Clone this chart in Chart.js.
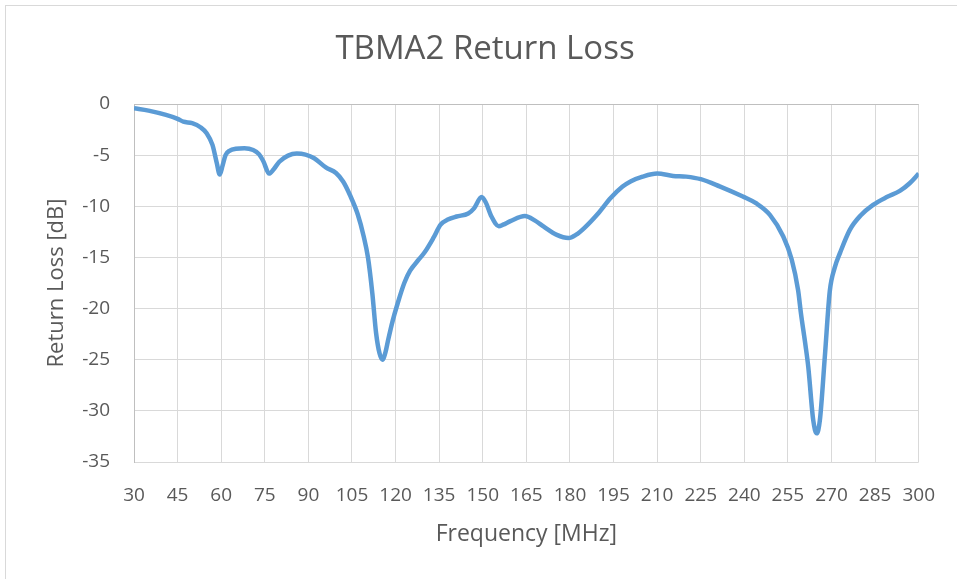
<!DOCTYPE html>
<html>
<head>
<meta charset="utf-8">
<script src="https://cdn.jsdelivr.net/npm/chart.js@4.4.1/dist/chart.umd.min.js"></script>
<style>
  html, body { margin: 0; padding: 0; background: #fff; }
  #wrap { width: 957px; height: 579px; }
</style>
</head>
<body>
<div id="wrap"><canvas id="rlChart"></canvas></div>
<script>
// frequency points [MHz] and return loss [dB]
var freqs = [30, 35, 41, 45, 47, 50, 53, 55, 57, 58.5, 59.5, 60.5, 61.5, 63, 65, 68, 71, 73, 74.5, 76.5,
    78, 80, 83, 86, 89, 92, 96, 99.5, 102, 104.3, 107, 109, 110.5, 112, 113.3, 114.5, 115.5, 116.5, 117.5, 119,
    120.5, 123, 125, 128, 130, 133, 135.5, 138, 141, 145, 147, 149.6, 151, 153, 155.5, 157, 159.5, 164.5, 168, 171,
    175.5, 179.5, 182, 185, 190, 194, 198, 201, 205, 210, 215.5, 220, 225, 231.5, 239.5, 244, 248.8, 253.4, 256.3, 258.5,
    259.5, 261, 262, 263.7, 264.9, 266, 267.7, 269.4, 271.1, 273, 276.3, 280, 284.3, 289, 293.5, 296.9, 300];
var returnLoss = [-0.42, -0.65, -1.07, -1.45, -1.73, -1.88, -2.3, -2.86, -4.0, -5.8, -6.9, -6.0, -5.0, -4.55, -4.38, -4.33, -4.5, -4.9, -5.6, -6.8,
    -6.4, -5.65, -5.05, -4.85, -4.95, -5.3, -6.2, -6.75, -7.6, -8.9, -10.8, -12.9, -15.0, -18.5, -22.4, -24.4, -25.0, -24.3, -23, -21.2,
    -19.7, -17.5, -16.3, -15.2, -14.5, -13.1, -11.8, -11.3, -11.0, -10.7, -10.2, -9.1, -9.6, -11.0, -11.95, -11.8, -11.45, -10.95, -11.4, -12.0,
    -12.8, -13.1, -12.8, -12.1, -10.6, -9.2, -8.1, -7.55, -7.1, -6.8, -7.03, -7.1, -7.35, -8.05, -9.05, -9.7, -10.84, -12.96, -15.2, -18.2,
    -20.5, -23.5, -25.7, -30.9, -32.2, -30.9, -24.7, -18.3, -16.0, -14.5, -12.3, -10.9, -9.86, -9.1, -8.5, -7.75, -6.8];

var xMin = 30, xMax = 300, xStep = 15;
var yMin = -35, yMax = 0, yStep = 5;
var chartTitle = 'TBMA2 Return Loss';

var points = [];
for (var i = 0; i < freqs.length; i++) {
    points.push({ x: freqs[i], y: returnLoss[i] });
}

var textColor = '#595959';
var fontFamily = '"Open Sans", "Liberation Sans", sans-serif';

// white background, light frame and the title, drawn at the spot Excel puts it
var frameAndTitle = {
    id: 'frameAndTitle',
    beforeDraw: function (chart) {
        var ctx = chart.ctx;
        ctx.save();
        ctx.fillStyle = '#ffffff';
        ctx.fillRect(0, 0, chart.width, chart.height);
        ctx.strokeStyle = '#d9d9d9';
        ctx.lineWidth = 1;
        ctx.strokeRect(5.5, 5.5, chart.width + 20, chart.height + 20);
        ctx.fillStyle = textColor;
        ctx.font = '33px ' + fontFamily;
        ctx.textAlign = 'center';
        ctx.textBaseline = 'middle';
        ctx.fillText(chartTitle, 485, 50);
        ctx.restore();
    }
};

var ctx = document.getElementById('rlChart');
var rlChart = new Chart(ctx, {
    type: 'line',
    data: {
        datasets: [{
            label: 'Return Loss',
            data: points,
            borderColor: '#5b9bd5',
            borderWidth: 4.5,
            pointRadius: 0,
            fill: false,
            cubicInterpolationMode: 'monotone'
        }]
    },
    options: {
        responsive: true,
        maintainAspectRatio: false,
        animation: false,
        layout: { padding: { left: 0, right: 38, top: 104, bottom: 0 } },
        plugins: {
            legend: { display: false },
            tooltip: { enabled: false },
            title: { display: false }
        },
        scales: {
            x: {
                type: 'linear',
                min: xMin,
                max: xMax,
                afterFit: function (scale) { scale.height = 117; },
                ticks: {
                    stepSize: xStep,
                    color: textColor,
                    padding: 22,
                    maxRotation: 0,
                    autoSkip: false,
                    font: { family: fontFamily, size: 19, lineHeight: 1.2 }
                },
                grid: { color: '#d9d9d9', drawTicks: false },
                border: { display: false },
                title: {
                    display: true,
                    text: 'Frequency [MHz]',
                    color: textColor,
                    font: { family: fontFamily, size: 23, lineHeight: 1.2 },
                    padding: { top: 0, bottom: 31 }
                }
            },
            y: {
                min: yMin,
                max: yMax,
                afterFit: function (scale) { scale.width = 134; },
                ticks: {
                    stepSize: yStep,
                    color: textColor,
                    padding: 24,
                    font: { family: fontFamily, size: 19 }
                },
                grid: {
                    drawTicks: false,
                    color: function (c) { return c.tick && c.tick.value === 0 ? '#bfbfbf' : '#d9d9d9'; }
                },
                border: { color: '#bfbfbf' },
                title: {
                    display: true,
                    text: 'Return Loss [dB]',
                    color: textColor,
                    font: { family: fontFamily, size: 22, lineHeight: 1.2 },
                    padding: { top: 44, bottom: 0 }
                }
            }
        }
    },
    plugins: [frameAndTitle]
});
</script>
</body>
</html>
